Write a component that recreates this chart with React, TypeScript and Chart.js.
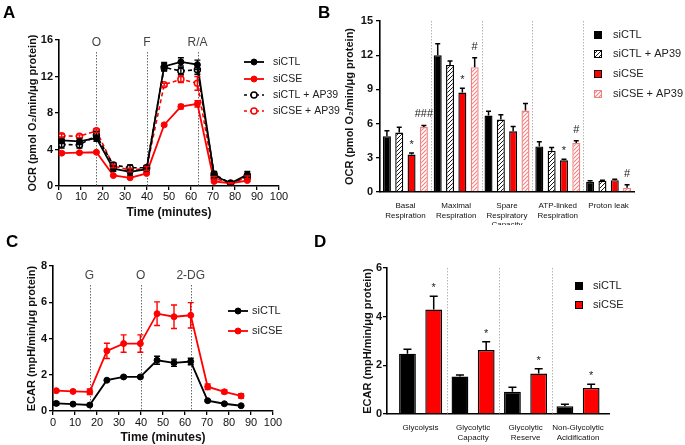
import React, { useEffect, useRef } from "react";
import { Chart, registerables } from "chart.js";

Chart.register(...registerables);

const FONT = "'Liberation Sans', Arial, Helvetica, sans-serif";
const RED = "#ff0000";
const PINK = "#f08080";
const INK = "#111111";
const W = 685;
const H = 445;

// ---------------- Panel A: OCR time course ----------------
const ocrTimes = [1.2, 9.3, 17.0, 24.7, 32.3, 39.8, 47.8, 55.4, 62.9, 70.5, 78.0, 85.6];
const ocrInjections = [17, 40, 63];
const ocrInjectionLabels = ["O", "F", "R/A"];
const ocrCTL = [5.0, 4.9, 5.25, 1.9, 1.55, 1.85, 13.1, 13.6, 13.3, 1.15, 0.3, 1.25];
const ocrCTLerr = [0.35, 0.35, 0.35, 0.3, 0.35, 0.3, 0.45, 0.45, 0.5, 0.4, 0.1, 0.35];
const ocrCSE = [3.6, 3.65, 3.7, 1.15, 0.9, 1.38, 6.7, 8.7, 9.0, 0.5, 0.3, 0.6];
const ocrCSEerr = [0.15, 0.1, 0.1, 0.1, 0.1, 0.1, 0.15, 0.25, 0.35, 0.1, 0.05, 0.1];
const ocrCTLAP = [4.55, 4.5, 5.55, 2.3, 2.0, 2.0, 13.0, 12.6, 12.75, 1.3, 0.3, 1.1];
const ocrCTLAPerr = [0.4, 0.35, 0.45, 0.25, 0.3, 0.25, 0.4, 0.4, 0.5, 0.3, 0.1, 0.3];
const ocrCSEAP = [5.5, 5.45, 6.05, 2.2, 1.75, 1.93, 11.1, 11.7, 11.25, 0.85, 0.3, 0.95];
const ocrCSEAPerr = [0.2, 0.15, 0.2, 0.2, 0.2, 0.2, 0.15, 0.35, 0.75, 0.2, 0.05, 0.15];

// ---------------- Panel B: OCR parameters ----------------
const ocrBarCategories = [
  ["Basal", "Respiration"],
  ["Maximal", "Respiration"],
  ["Spare", "Respiratory", "Capacity"],
  ["ATP-linked", "Respiration"],
  ["Proton leak"],
];
const barCTL = [4.9, 12.0, 6.7, 4.0, 0.9];
const barCTLerr = [0.48, 1.0, 0.38, 0.4, 0.08];
const barCTLAP = [5.22, 11.15, 6.35, 3.62, 0.98];
const barCTLAPerr = [0.46, 0.35, 0.42, 0.28, 0.06];
const barCSE = [3.28, 8.72, 5.32, 2.78, 1.04];
const barCSEerr = [0.15, 0.38, 0.42, 0.1, 0.07];
const barCSEAP = [5.7, 10.95, 7.15, 4.3, 0.38];
const barCSEAPerr = [0.14, 0.82, 0.62, 0.2, 0.26];
const barCSEmarks = ["*", "*", "", "*", ""];
const barCSEAPmarks = ["###", "#", "", "#", "#"];

// ---------------- Panel C: ECAR time course ----------------
const ecarTimes = [1.5, 9.1, 16.7, 24.5, 32.1, 39.7, 47.3, 55.0, 62.6, 70.3, 77.9, 85.5];
const ecarInjections = [16.6, 39.8, 62.6];
const ecarInjectionLabels = ["G", "O", "2-DG"];
const ecarCTL = [0.42, 0.38, 0.33, 1.7, 1.88, 1.88, 2.8, 2.66, 2.73, 0.57, 0.4, 0.29];
const ecarCTLerr = [0.1, 0.06, 0.05, 0.06, 0.05, 0.05, 0.22, 0.2, 0.18, 0.05, 0.04, 0.04];
const ecarCSE = [1.12, 1.08, 1.06, 3.32, 3.72, 3.72, 5.37, 5.2, 5.28, 1.34, 1.06, 0.83];
const ecarCSEerr = [0.06, 0.05, 0.15, 0.42, 0.48, 0.48, 0.65, 0.65, 0.7, 0.15, 0.1, 0.12];

// ---------------- Panel D: ECAR parameters ----------------
const ecarBarCategories = [
  ["Glycolysis"],
  ["Glycolytic", "Capacity"],
  ["Glycolytic", "Reserve"],
  ["Non-Glycolytic", "Acidification"],
];
const ecarBarCTL = [2.48, 1.54, 0.91, 0.32];
const ecarBarCTLerr = [0.18, 0.06, 0.19, 0.08];
const ecarBarCSE = [4.29, 2.63, 1.66, 1.07];
const ecarBarCSEerr = [0.55, 0.34, 0.2, 0.15];
const ecarBarCSEmarks = ["*", "*", "*", "*"];

// ---------------- helpers ----------------
type Frame = { left: number; top: number; right: number; bottom: number; yTitleX: number; xAxisH: number };
const Y_TITLE_SIZE = 11;

function frameLayout(f: Frame) {
  const lh = Y_TITLE_SIZE * 1.2;
  const padLeft = f.yTitleX - lh / 2;
  return {
    padding: { left: padLeft, top: f.top, right: W - f.right, bottom: H - f.bottom - f.xAxisH },
    yWidth: f.left - padLeft,
  };
}

function axisLines() {
  return {
    grid: {
      display: true,
      drawOnChartArea: false,
      drawTicks: true,
      tickLength: 4,
      color: "#000",
      tickColor: "#000",
      lineWidth: 1.3,
      tickWidth: 1.3,
    },
    border: { display: true, color: "#000", width: 1.6 },
  };
}

function yAxis(max: number, step: number, title: string, width: number, tickPad: number) {
  return {
    type: "linear",
    position: "left",
    min: 0,
    max,
    ticks: { stepSize: step, color: INK, padding: tickPad, font: { family: FONT, size: 11, weight: "bold" } },
    ...axisLines(),
    title: {
      display: true,
      text: title,
      color: INK,
      padding: 0,
      font: { family: FONT, size: Y_TITLE_SIZE, weight: "bold" },
    },
    afterFit: (s: any) => {
      s.width = width;
    },
  };
}

function drawLetter(ctx: CanvasRenderingContext2D, letter: string, x: number, y: number) {
  ctx.save();
  ctx.fillStyle = "#000";
  ctx.font = `bold 17px ${FONT}`;
  ctx.textAlign = "left";
  ctx.textBaseline = "alphabetic";
  ctx.fillText(letter, x, y);
  ctx.restore();
}

function makeHatch(ctx: CanvasRenderingContext2D, color: string, width: number): any {
  const c = document.createElement("canvas");
  const s = 4;
  c.width = s;
  c.height = s;
  const g = c.getContext("2d")!;
  g.fillStyle = "#fff";
  g.fillRect(0, 0, s, s);
  g.strokeStyle = color;
  g.lineWidth = width;
  g.beginPath();
  g.moveTo(0, s);
  g.lineTo(s, 0);
  g.moveTo(-1, 1);
  g.lineTo(1, -1);
  g.moveTo(s - 1, s + 1);
  g.lineTo(s + 1, s - 1);
  g.stroke();
  return ctx.createPattern(c, "repeat") || color;
}

type LineSeries = {
  label: string;
  values: number[];
  errors: number[];
  color: string;
  dashed: boolean;
  open: boolean;
  order: number;
};

type LineOpts = {
  frame: Frame;
  yMax: number;
  yStep: number;
  yTitle: string;
  times: number[];
  series: LineSeries[];
  injections: number[];
  injectionLabels: string[];
  injLabelY: number;
  injLineTop: number;
  xTickPad: number;
  legendX: number;
  legendTextGap: number;
  legendFont: number;
  legendRows: number[];
  letter: string;
  letterX: number;
  letterY: number;
};

function makeLineChart(canvas: HTMLCanvasElement, o: LineOpts) {
  const lay = frameLayout(o.frame);
  const extras = {
    id: "lineExtras",
    beforeDatasetsDraw(chart: any) {
      const ctx = chart.ctx as CanvasRenderingContext2D;
      const xs = chart.scales.x;
      const ys = chart.scales.y;
      ctx.save();
      ctx.strokeStyle = "#666";
      ctx.lineWidth = 1;
      ctx.setLineDash([1.5, 1.5]);
      o.injections.forEach((t) => {
        const px = Math.round(xs.getPixelForValue(t)) + 0.5;
        ctx.beginPath();
        ctx.moveTo(px, o.injLineTop);
        ctx.lineTo(px, ys.bottom);
        ctx.stroke();
      });
      ctx.setLineDash([]);
      ctx.fillStyle = "#444";
      ctx.font = `12px ${FONT}`;
      ctx.textAlign = "center";
      ctx.textBaseline = "middle";
      o.injections.forEach((t, i) => {
        ctx.fillText(o.injectionLabels[i], xs.getPixelForValue(t), o.injLabelY);
      });
      ctx.restore();
    },
    afterDatasetsDraw(chart: any) {
      const ctx = chart.ctx as CanvasRenderingContext2D;
      const ys = chart.scales.y;
      ctx.save();
      o.series.forEach((s, di) => {
        const meta = chart.getDatasetMeta(di);
        ctx.strokeStyle = s.color;
        ctx.lineWidth = 1.4;
        meta.data.forEach((el: any, j: number) => {
          const e = s.errors[j];
          const v = s.values[j];
          const y1 = ys.getPixelForValue(v - e);
          const y2 = ys.getPixelForValue(v + e);
          const x = el.x;
          ctx.beginPath();
          ctx.moveTo(x, y1);
          ctx.lineTo(x, y2);
          ctx.moveTo(x - 3, y1);
          ctx.lineTo(x + 3, y1);
          ctx.moveTo(x - 3, y2);
          ctx.lineTo(x + 3, y2);
          ctx.stroke();
        });
      });
      ctx.restore();
    },
    afterDraw(chart: any) {
      const ctx = chart.ctx as CanvasRenderingContext2D;
      ctx.save();
      o.series.forEach((s, i) => {
        const y = o.legendRows[i];
        const x0 = o.legendX;
        ctx.strokeStyle = s.color;
        ctx.lineWidth = s.dashed ? 1.6 : 1.8;
        ctx.setLineDash(s.dashed ? [3, 3] : []);
        ctx.beginPath();
        ctx.moveTo(x0, y);
        ctx.lineTo(x0 + 20, y);
        ctx.stroke();
        ctx.setLineDash([]);
        ctx.beginPath();
        ctx.arc(x0 + 10, y, 3, 0, Math.PI * 2);
        ctx.fillStyle = s.open ? "#fff" : s.color;
        ctx.fill();
        ctx.lineWidth = s.open ? 1.5 : 1;
        ctx.stroke();
        ctx.fillStyle = "#222";
        ctx.font = `${o.legendFont}px ${FONT}`;
        ctx.textAlign = "left";
        ctx.textBaseline = "middle";
        ctx.fillText(s.label, x0 + 20 + o.legendTextGap, y);
      });
      ctx.restore();
      drawLetter(ctx, o.letter, o.letterX, o.letterY);
    },
  };

  return new Chart(canvas, {
    type: "line",
    data: {
      datasets: o.series.map((s) => ({
        label: s.label,
        data: o.times.map((t, i) => ({ x: t, y: s.values[i] })),
        borderColor: s.color,
        backgroundColor: s.color,
        borderWidth: s.dashed ? 1.6 : 1.8,
        borderDash: s.dashed ? [4, 3] : [],
        pointRadius: 3,
        pointHoverRadius: 3,
        pointBackgroundColor: s.open ? "#fff" : s.color,
        pointBorderColor: s.color,
        pointBorderWidth: s.open ? 1.5 : 1,
        tension: 0,
        fill: false,
        order: s.order,
      })),
    },
    options: {
      responsive: false,
      animation: false,
      events: [],
      layout: { padding: lay.padding },
      plugins: { legend: { display: false }, tooltip: { enabled: false }, title: { display: false } },
      scales: {
        x: {
          type: "linear",
          position: "bottom",
          min: 0,
          max: 100,
          ticks: {
            stepSize: 10,
            color: INK,
            padding: o.xTickPad,
            maxRotation: 0,
            autoSkip: false,
            font: { family: FONT, size: 11 },
          },
          ...axisLines(),
          title: {
            display: true,
            text: "Time (minutes)",
            color: INK,
            padding: 0,
            font: { family: FONT, size: 12, weight: "bold" },
          },
          afterFit: (s: any) => {
            s.height = o.frame.xAxisH;
          },
        },
        y: yAxis(o.yMax, o.yStep, o.yTitle, lay.yWidth, 2),
      },
    } as any,
    plugins: [extras as any],
  });
}

type BarSeries = {
  label: string;
  values: number[];
  errors: number[];
  marks?: string[];
  fill: any;
  border: string;
};

type BarOpts = {
  frame: Frame;
  yMax: number;
  yStep: number;
  yTitle: string;
  yTickPad: number;
  labels: string[][];
  linearX?: { min: number; max: number };
  series: BarSeries[];
  cp: number;
  bp: number;
  cap: number;
  labelPad: number;
  legendSquareX: number;
  legendTextX: number;
  legendRows: number[];
  letter: string;
  letterX: number;
  letterY: number;
};

function makeBarChart(canvas: HTMLCanvasElement, o: BarOpts) {
  const lay = frameLayout(o.frame);
  const n = o.labels.length;
  const extras = {
    id: "barExtras",
    beforeDatasetsDraw(chart: any) {
      const ctx = chart.ctx as CanvasRenderingContext2D;
      const xs = chart.scales.x;
      const ys = chart.scales.y;
      ctx.save();
      ctx.strokeStyle = "#b5b5b5";
      ctx.lineWidth = 1;
      ctx.setLineDash([1.5, 1.5]);
      for (let i = 0; i < n - 1; i++) {
        const px = Math.round((xs.getPixelForValue(i) + xs.getPixelForValue(i + 1)) / 2) + 0.5;
        ctx.beginPath();
        ctx.moveTo(px, ys.top);
        ctx.lineTo(px, ys.bottom);
        ctx.stroke();
      }
      ctx.restore();
    },
    afterDatasetsDraw(chart: any) {
      const ctx = chart.ctx as CanvasRenderingContext2D;
      const ys = chart.scales.y;
      ctx.save();
      o.series.forEach((s, di) => {
        const meta = chart.getDatasetMeta(di);
        meta.data.forEach((el: any, j: number) => {
          const v = s.values[j];
          const e = s.errors[j];
          const yBar = ys.getPixelForValue(v);
          const yTop = ys.getPixelForValue(v + e);
          ctx.strokeStyle = "#000";
          ctx.lineWidth = 1.5;
          ctx.beginPath();
          ctx.moveTo(el.x, yBar);
          ctx.lineTo(el.x, yTop);
          ctx.moveTo(el.x - o.cap, yTop);
          ctx.lineTo(el.x + o.cap, yTop);
          ctx.stroke();
          const m = s.marks ? s.marks[j] : "";
          if (m) {
            ctx.fillStyle = "#222";
            ctx.font = `11px ${FONT}`;
            ctx.textAlign = "center";
            ctx.textBaseline = "alphabetic";
            const off = m === "*" ? 5 : 8;
            ctx.fillText(m, el.x, yTop - off);
          }
        });
      });
      ctx.restore();
    },
    afterDraw(chart: any) {
      const ctx = chart.ctx as CanvasRenderingContext2D;
      ctx.save();
      o.series.forEach((s, i) => {
        const y = o.legendRows[i];
        const sz = 8;
        ctx.fillStyle = s.fill;
        ctx.fillRect(o.legendSquareX, y - sz / 2, sz, sz);
        ctx.strokeStyle = s.border;
        ctx.lineWidth = 1;
        ctx.strokeRect(o.legendSquareX + 0.5, y - sz / 2 + 0.5, sz - 1, sz - 1);
        ctx.fillStyle = "#222";
        ctx.font = `11px ${FONT}`;
        ctx.textAlign = "left";
        ctx.textBaseline = "middle";
        ctx.fillText(s.label, o.legendTextX, y);
      });
      ctx.restore();
      drawLetter(ctx, o.letter, o.letterX, o.letterY);
    },
  };

  const xCommon: any = {
    position: "bottom",
    ticks: {
      color: INK,
      padding: o.labelPad,
      maxRotation: 0,
      autoSkip: false,
      font: { family: FONT, size: 8, lineHeight: 1.2 },
    },
    grid: { display: false, drawTicks: false, drawOnChartArea: false },
    border: { display: true, color: "#000", width: 1.6 },
    afterFit: (s: any) => {
      s.height = o.frame.xAxisH;
    },
  };
  let xScale: any;
  if (o.linearX) {
    xScale = {
      ...xCommon,
      type: "linear",
      offset: false,
      min: o.linearX.min,
      max: o.linearX.max,
      afterBuildTicks: (s: any) => {
        s.ticks = o.labels.map((_, i) => ({ value: i }));
      },
      ticks: {
        ...xCommon.ticks,
        callback: (v: any) => {
          const idx = Math.round(Number(v));
          return o.labels[idx] ?? "";
        },
      },
    };
  } else {
    xScale = { ...xCommon, type: "category" };
  }

  return new Chart(canvas, {
    type: "bar",
    data: {
      labels: o.linearX ? undefined : (o.labels as any),
      datasets: o.series.map((s) => ({
        label: s.label,
        data: o.linearX ? s.values.map((v, i) => ({ x: i, y: v })) : s.values,
        backgroundColor: s.fill,
        borderColor: s.border,
        borderWidth: 1.4,
        categoryPercentage: o.cp,
        barPercentage: o.bp,
      })),
    } as any,
    options: {
      responsive: false,
      animation: false,
      events: [],
      layout: { padding: lay.padding },
      plugins: { legend: { display: false }, tooltip: { enabled: false }, title: { display: false } },
      scales: {
        x: xScale,
        y: yAxis(o.yMax, o.yStep, o.yTitle, lay.yWidth, o.yTickPad),
      },
    } as any,
    plugins: [extras as any],
  });
}

export default function App() {
  const refA = useRef<HTMLCanvasElement>(null);
  const refB = useRef<HTMLCanvasElement>(null);
  const refC = useRef<HTMLCanvasElement>(null);
  const refD = useRef<HTMLCanvasElement>(null);

  useEffect(() => {
    const charts: Chart[] = [];
    const ctxB = refB.current!.getContext("2d")!;

    charts.push(
      makeLineChart(refA.current!, {
        frame: { left: 59, top: 40, right: 279, bottom: 186, yTitleX: 33, xAxisH: 34 },
        yMax: 16,
        yStep: 4,
        yTitle: "OCR (pmol O\u2082/min/\u03bcg protein)",
        times: ocrTimes,
        series: [
          { label: "siCTL", values: ocrCTL, errors: ocrCTLerr, color: "#000", dashed: false, open: false, order: 0 },
          { label: "siCSE", values: ocrCSE, errors: ocrCSEerr, color: RED, dashed: false, open: false, order: 3 },
          { label: "siCTL + AP39", values: ocrCTLAP, errors: ocrCTLAPerr, color: "#000", dashed: true, open: true, order: 1 },
          { label: "siCSE + AP39", values: ocrCSEAP, errors: ocrCSEAPerr, color: RED, dashed: true, open: true, order: 2 },
        ],
        injections: ocrInjections,
        injectionLabels: ocrInjectionLabels,
        injLabelY: 43,
        injLineTop: 52,
        xTickPad: 0,
        legendX: 244,
        legendTextGap: 9,
        legendFont: 10.5,
        legendRows: [62, 79, 95, 111],
        letter: "A",
        letterX: 3,
        letterY: 18,
      })
    );

    const hatchBlack = makeHatch(ctxB, "#000", 0.9);
    const hatchPink = makeHatch(ctxB, PINK, 1.1);
    charts.push(
      makeBarChart(refB.current!, {
        frame: { left: 380, top: 21, right: 634, bottom: 192, yTitleX: 350, xAxisH: 33 },
        yMax: 15,
        yStep: 3,
        yTitle: "OCR (pmol O\u2082/min/\u03bcg protein)",
        yTickPad: 3,
        labels: ocrBarCategories,
        series: [
          { label: "siCTL", values: barCTL, errors: barCTLerr, fill: "#000", border: "#000" },
          { label: "siCTL + AP39", values: barCTLAP, errors: barCTLAPerr, fill: hatchBlack, border: "#000" },
          { label: "siCSE", values: barCSE, errors: barCSEerr, marks: barCSEmarks, fill: RED, border: "#000" },
          { label: "siCSE + AP39", values: barCSEAP, errors: barCSEAPerr, marks: barCSEAPmarks, fill: hatchPink, border: PINK },
        ],
        cp: 0.97,
        bp: 0.65,
        cap: 2.5,
        labelPad: 9,
        legendSquareX: 594,
        legendTextX: 613,
        legendRows: [35, 54, 74, 94],
        letter: "B",
        letterX: 318,
        letterY: 18,
      })
    );

    charts.push(
      makeLineChart(refC.current!, {
        frame: { left: 53, top: 266, right: 273, bottom: 411, yTitleX: 32, xAxisH: 34 },
        yMax: 8,
        yStep: 2,
        yTitle: "ECAR (mpH/min/\u03bcg protein)",
        times: ecarTimes,
        series: [
          { label: "siCTL", values: ecarCTL, errors: ecarCTLerr, color: "#000", dashed: false, open: false, order: 0 },
          { label: "siCSE", values: ecarCSE, errors: ecarCSEerr, color: RED, dashed: false, open: false, order: 1 },
        ],
        injections: ecarInjections,
        injectionLabels: ecarInjectionLabels,
        injLabelY: 276,
        injLineTop: 285,
        xTickPad: 1,
        legendX: 228,
        legendTextGap: 4,
        legendFont: 11,
        legendRows: [311, 331],
        letter: "C",
        letterX: 6,
        letterY: 247,
      })
    );

    charts.push(
      makeBarChart(refD.current!, {
        frame: { left: 387, top: 268, right: 609, bottom: 414, yTitleX: 368, xAxisH: 31 },
        yMax: 6,
        yStep: 2,
        yTitle: "ECAR (mpH/min/\u03bcg protein)",
        yTickPad: 1,
        labels: ecarBarCategories,
        linearX: { min: -0.64, max: 3.59 },
        series: [
          { label: "siCTL", values: ecarBarCTL, errors: ecarBarCTLerr, fill: "#000", border: "#000" },
          { label: "siCSE", values: ecarBarCSE, errors: ecarBarCSEerr, marks: ecarBarCSEmarks, fill: RED, border: "#000" },
        ],
        cp: 1.0,
        bp: 0.64,
        cap: 4,
        labelPad: 9,
        legendSquareX: 575,
        legendTextX: 593,
        legendRows: [286, 305],
        letter: "D",
        letterX: 314,
        letterY: 247,
      })
    );

    return () => {
      charts.forEach((c) => c.destroy());
    };
  }, []);

  const style: React.CSSProperties = { position: "absolute", left: 0, top: 0 };
  return (
    <div style={{ position: "absolute", left: 0, top: 0, width: W, height: H, background: "#fff" }}>
      <canvas ref={refA} width={W} height={H} style={style} />
      <canvas ref={refB} width={W} height={H} style={style} />
      <canvas ref={refC} width={W} height={H} style={style} />
      <canvas ref={refD} width={W} height={H} style={style} />
    </div>
  );
}
